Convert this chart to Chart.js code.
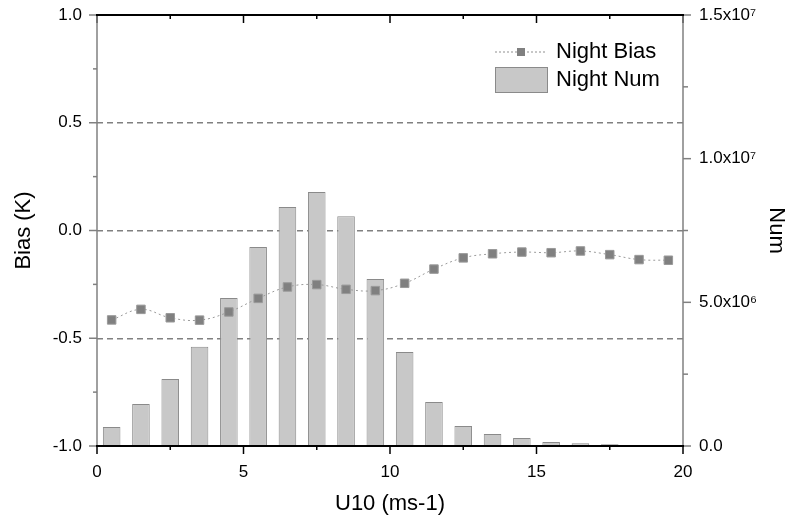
<!DOCTYPE html>
<html>
<head>
<meta charset="utf-8">
<script src="https://cdn.jsdelivr.net/npm/chart.js@4.4.0/dist/chart.umd.min.js"></script>
<style>
html, body { margin: 0; padding: 0; background: #fff; }
canvas { display: block; }
</style>
</head>
<body>
<canvas id="biasChart" width="791" height="522"></canvas>
<script>
// Windgeschwindigkeit (Klassenmitten) und Werte
const windSpeed = [0.5, 1.5, 2.5, 3.5, 4.5, 5.5, 6.5, 7.5, 8.5, 9.5, 10.5, 11.5, 12.5, 13.5, 14.5, 15.5, 16.5, 17.5, 18.5, 19.5];
const nightBias = [-0.415, -0.366, -0.405, -0.416, -0.378, -0.315, -0.262, -0.251, -0.273, -0.279, -0.245, -0.179, -0.127, -0.108, -0.100, -0.103, -0.095, -0.112, -0.135, -0.138];
const nightNum = [0.66e6, 1.46e6, 2.33e6, 3.45e6, 5.15e6, 6.93e6, 8.32e6, 8.84e6, 8.0e6, 5.81e6, 3.27e6, 1.53e6, 0.70e6, 0.42e6, 0.28e6, 0.14e6, 0.10e6, 0.06e6, 0.02e6, 0.01e6];
const numTickLabels = { 0: '0.0', 5000000: '5.0x10\u2076', 10000000: '1.0x10\u2077', 15000000: '1.5x10\u2077' };
const biasDashedLines = [-0.5, 0, 0.5];

const FONT = '"Liberation Sans", Arial, sans-serif';
const canvas = document.getElementById('biasChart');

// Rahmen, Ticks und Legende selbst zeichnen
const framePlugin = {
    id: 'frame',
    afterDraw(chart) {
        const { ctx, chartArea: a, scales } = chart;
        ctx.save();
        const line = (x1, y1, x2, y2, color, w) => {
            ctx.beginPath();
            ctx.strokeStyle = color;
            ctx.lineWidth = w;
            ctx.moveTo(x1, y1);
            ctx.lineTo(x2, y2);
            ctx.stroke();
        };
        // x-Ticks unten und oben
        for (let v = 0; v <= 20; v += 2.5) {
            const px = scales.x.getPixelForValue(v);
            const len = v % 5 === 0 ? 8 : 4;
            line(px, a.bottom, px, a.bottom + len, '#000', 1.5);
            line(px, a.top, px, a.top + len, '#000', 1.5);
        }
        // linke Achse
        for (let v = -1; v <= 1.0001; v += 0.25) {
            const py = scales.y.getPixelForValue(v);
            const major = Math.abs(v * 2 - Math.round(v * 2)) < 1e-6;
            line(a.left - (major ? 8 : 4), py, a.left, py, '#808080', 1.5);
        }
        // rechte Achse
        for (let v = 0; v <= 1.5e7; v += 2.5e6) {
            const py = scales.y2.getPixelForValue(v);
            const major = v % 5e6 === 0;
            line(a.right, py, a.right + (major ? 8 : 5), py, '#808080', 1.5);
        }
        line(a.left, a.top, a.left, a.bottom, '#808080', 1.5);
        line(a.right, a.top, a.right, a.bottom, '#808080', 1.5);
        line(a.left - 1, a.top, a.right + 1, a.top, '#000', 2);
        line(a.left - 1, a.bottom, a.right + 1, a.bottom, '#000', 2);

        // Legende
        const lx = a.right - 188;
        const ly = a.top + 37;
        ctx.setLineDash([2, 2]);
        line(lx, ly, lx + 52, ly, '#909090', 1);
        ctx.setLineDash([]);
        ctx.fillStyle = '#808080';
        ctx.fillRect(lx + 22, ly - 4, 8, 8);
        ctx.fillStyle = '#c8c8c8';
        ctx.fillRect(lx, ly + 15, 52, 25);
        ctx.strokeStyle = '#8a8a8a';
        ctx.lineWidth = 1;
        ctx.strokeRect(lx + 0.5, ly + 15.5, 52, 25);
        ctx.fillStyle = '#000';
        ctx.font = '22px ' + FONT;
        ctx.textBaseline = 'middle';
        ctx.textAlign = 'left';
        ctx.fillText('Night Bias', lx + 61, ly);
        ctx.fillText('Night Num', lx + 61, ly + 28);
        ctx.restore();
    }
};

new Chart(canvas, {
    type: 'bar',
    data: {
        datasets: [
            {
                type: 'line',
                label: 'Night Bias',
                data: windSpeed.map((u, i) => ({ x: u, y: nightBias[i] })),
                yAxisID: 'y',
                borderColor: '#9a9a9a',
                borderWidth: 1,
                borderDash: [2, 3],
                tension: 0.4,
                pointStyle: 'rect',
                pointRadius: 6,
                pointBackgroundColor: '#808080',
                pointBorderColor: '#9a9a9a',
                pointBorderWidth: 1,
                order: 0
            },
            {
                type: 'bar',
                label: 'Night Num',
                data: windSpeed.map((u, i) => ({ x: u, y: nightNum[i] })),
                yAxisID: 'y2',
                backgroundColor: '#c8c8c8',
                borderColor: '#8a8a8a',
                borderWidth: 1,
                barPercentage: 0.6,
                categoryPercentage: 1.0,
                order: 1
            }
        ]
    },
    options: {
        responsive: false,
        animation: false,
        devicePixelRatio: 1,
        layout: { padding: { top: 15, left: 0, right: 0, bottom: 0 } },
        plugins: {
            legend: { display: false },
            tooltip: { enabled: false }
        },
        scales: {
            x: {
                type: 'linear',
                min: 0,
                max: 20,
                offset: false,
                grid: { display: false, drawTicks: false },
                border: { display: false },
                ticks: {
                    stepSize: 5,
                    padding: 16,
                    color: '#000',
                    font: { size: 17, family: FONT },
                    maxRotation: 0
                },
                title: {
                    display: true,
                    text: 'U10 (ms-1)',
                    color: '#000',
                    font: { size: 22, family: FONT },
                    padding: { top: 0, bottom: 5 }
                },
                afterFit(scale) { scale.height = 76; }
            },
            y: {
                position: 'left',
                min: -1,
                max: 1,
                z: 1,
                grid: {
                    drawTicks: false,
                    lineWidth: 1.5,
                    color: ctx => biasDashedLines.includes(ctx.tick.value) ? '#808080' : 'rgba(0,0,0,0)'
                },
                border: { display: false, dash: [6, 4] },
                ticks: {
                    stepSize: 0.5,
                    padding: 15,
                    color: '#000',
                    font: { size: 17, family: FONT },
                    callback: v => Number(v).toFixed(1)
                },
                title: {
                    display: true,
                    text: 'Bias (K)',
                    color: '#000',
                    font: { size: 22, family: FONT },
                    padding: { top: 11, bottom: 0 }
                },
                afterFit(scale) {
                    scale.width = 97;
                    scale.paddingTop = 0;
                    scale.paddingBottom = 0;
                }
            },
            y2: {
                position: 'right',
                min: 0,
                max: 1.5e7,
                grid: { display: false, drawTicks: false },
                border: { display: false },
                ticks: {
                    stepSize: 5e6,
                    padding: 16,
                    color: '#000',
                    font: { size: 17, family: FONT },
                    callback: v => numTickLabels[v] !== undefined ? numTickLabels[v] : ''
                },
                title: {
                    display: true,
                    text: 'Num',
                    color: '#000',
                    font: { size: 22, family: FONT },
                    padding: { top: 2, bottom: 0 }
                },
                afterFit(scale) {
                    scale.width = 108;
                    scale.paddingTop = 0;
                    scale.paddingBottom = 0;
                }
            }
        }
    },
    plugins: [framePlugin]
});
</script>
</body>
</html>
